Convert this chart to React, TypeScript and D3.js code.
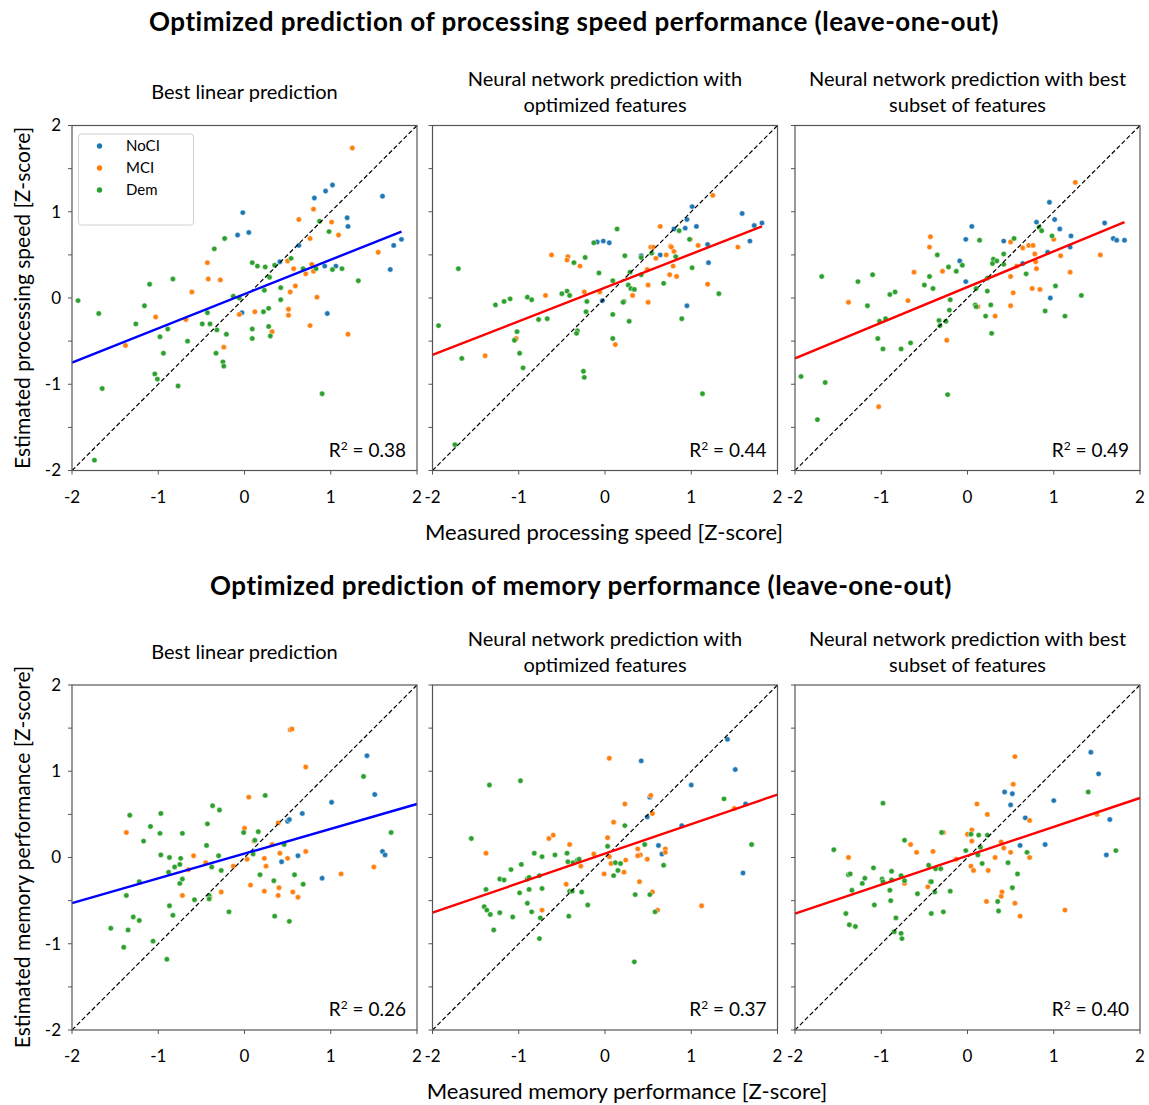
import React from 'react';
import * as d3 from 'd3';

// ---- data: [measured, estimated] Z-scores ----
const speedLinearNoCI = [[-0.02,0.99],[-0.08,0.73],[0.05,0.76],[-0.03,-0.17],[0.41,0.42],[0.63,0.61],[0.81,1.16],[0.94,1.24],[1.02,1.31],[1.19,0.93],[1.20,0.83],[0.93,0.37],[1.06,0.37],[0.96,-0.18],[1.60,1.18],[1.73,0.61],[1.82,0.68],[1.69,0.33]];
const speedLinearMCI = [[1.25,1.74],[0.80,1.03],[0.63,0.91],[1.01,0.88],[0.76,0.69],[1.09,0.73],[1.55,0.53],[-0.43,0.41],[-0.42,0.22],[-0.28,0.21],[-0.61,0.07],[0.50,0.43],[0.57,0.34],[0.78,0.39],[0.71,0.28],[0.80,0.31],[0.59,0.14],[0.53,0.07],[0.84,0.01],[0.51,-0.13],[0.51,-0.20],[0.12,-0.16],[-0.06,-0.19],[0.76,-0.32],[1.20,-0.42],[0.32,-0.39],[-0.24,-0.57],[-0.68,-0.25],[-1.03,-0.22],[-1.38,-0.55]];
const speedLinearDem = [[-1.93,-0.03],[-1.69,-0.18],[-1.65,-1.05],[-1.74,-1.88],[-1.26,-0.30],[-1.16,-0.09],[-1.10,0.16],[-0.83,0.22],[-0.98,-0.45],[-0.89,-0.36],[-0.94,-0.64],[-1.04,-0.88],[-1.01,-0.94],[-0.77,-1.02],[-0.66,-0.50],[-0.49,-0.30],[-0.40,-0.30],[-0.43,-0.17],[-0.32,-0.37],[-0.33,-0.64],[-0.21,-0.42],[-0.25,-0.74],[-0.24,-0.79],[-0.35,0.57],[-0.23,0.69],[-0.13,0.02],[-0.06,0.00],[0.09,0.41],[0.15,0.37],[0.24,0.36],[0.23,0.09],[0.29,0.24],[0.35,0.38],[0.22,-0.16],[0.28,-0.12],[0.09,-0.36],[0.09,-0.47],[0.28,-0.33],[0.30,-0.44],[0.42,-0.02],[0.42,0.12],[0.54,0.46],[0.68,0.34],[0.83,0.34],[0.87,0.89],[0.98,0.77],[1.02,0.33],[1.13,0.34],[1.32,0.20],[0.90,-1.11]];

const speedNetOptNoCI = [[1.01,1.06],[0.95,0.91],[0.93,0.81],[0.80,0.80],[1.06,0.83],[1.59,0.98],[1.73,0.84],[1.82,0.87],[1.68,0.66],[1.19,0.62],[1.20,0.41],[-0.09,0.65],[-0.02,0.66],[0.05,0.64],[0.42,0.49],[0.64,0.50],[-0.03,-0.03],[0.95,-0.09]];
const speedNetOptMCI = [[1.25,1.19],[0.64,0.83],[0.99,0.68],[0.53,0.59],[0.56,0.59],[0.76,0.60],[0.77,0.59],[0.80,0.54],[0.71,0.50],[1.08,0.61],[1.54,0.59],[0.59,0.46],[0.79,0.37],[0.49,0.33],[0.75,0.27],[0.83,0.25],[0.50,0.15],[1.19,0.16],[0.50,-0.05],[0.32,0.03],[-0.62,0.50],[-0.43,0.48],[-0.44,0.44],[-0.29,0.37],[-0.24,0.07],[-0.06,0.07],[-0.69,0.03],[-1.03,-0.47],[-1.39,-0.67],[0.12,-0.54]];
const speedNetOptDem = [[-1.93,-0.32],[-1.70,0.34],[-1.66,-0.70],[-1.74,-1.70],[-1.27,-0.08],[-1.17,-0.04],[-1.10,-0.01],[-0.90,0.01],[-0.85,-0.02],[-0.77,-0.25],[-0.67,-0.24],[-1.02,-0.39],[-1.05,-0.49],[-0.99,-0.64],[-0.95,-0.81],[-0.50,0.05],[-0.44,0.08],[-0.41,0.03],[-0.36,0.41],[-0.23,0.47],[-0.21,-0.04],[-0.22,-0.16],[-0.32,-0.38],[-0.33,-0.41],[-0.25,-0.85],[-0.24,-0.92],[-0.13,0.64],[0.14,0.80],[-0.07,0.29],[0.09,0.20],[0.23,0.49],[0.29,0.30],[0.27,0.15],[0.30,0.11],[0.34,0.10],[0.22,-0.04],[0.21,-0.05],[0.09,-0.19],[0.28,-0.27],[0.09,-0.47],[0.42,0.47],[0.42,0.27],[0.54,0.52],[0.68,0.17],[0.82,0.48],[0.86,0.78],[0.98,0.68],[1.01,0.35],[1.32,0.05],[0.89,-0.24],[1.13,-1.11]];

const speedNetSubNoCI = [[0.95,1.11],[0.80,0.88],[1.01,0.91],[1.07,0.80],[1.20,0.72],[1.19,0.59],[0.93,0.53],[1.59,0.87],[1.69,0.69],[1.73,0.67],[1.82,0.67],[0.05,0.83],[-0.02,0.68],[0.42,0.66],[0.64,0.40],[-0.09,0.43],[-0.02,0.19],[0.96,0.00]];
const speedNetSubMCI = [[1.25,1.34],[-0.43,0.71],[-0.44,0.59],[-0.62,0.30],[-0.29,0.31],[-0.69,-0.03],[-1.38,-0.05],[-0.24,-0.49],[-1.03,-1.26],[0.50,0.65],[0.64,0.58],[0.71,0.61],[0.76,0.61],[0.78,0.51],[0.79,0.42],[0.80,0.34],[0.57,0.37],[0.50,0.25],[0.53,0.06],[0.75,0.11],[0.84,0.10],[0.50,-0.09],[0.12,-0.10],[0.32,-0.21],[1.00,0.68],[1.08,0.49],[1.19,0.30],[1.54,0.50]];
const speedNetSubDem = [[-1.93,-0.91],[-1.74,-1.41],[-1.65,-0.98],[-1.69,0.25],[-1.27,0.19],[-1.10,0.27],[-1.16,-0.09],[-1.02,-0.27],[-0.95,-0.24],[-0.90,0.04],[-0.84,0.07],[-1.04,-0.47],[-0.98,-0.59],[-0.77,-0.59],[-0.66,-0.52],[-0.50,0.15],[-0.44,0.25],[-0.40,0.11],[-0.35,0.50],[-0.22,0.36],[-0.20,-0.02],[-0.21,-0.14],[-0.33,-0.26],[-0.32,-0.32],[-0.25,-0.27],[-0.23,-1.12],[-0.13,0.31],[-0.06,0.38],[0.14,0.67],[0.10,0.11],[0.09,-0.08],[0.10,-0.10],[0.23,0.23],[0.23,0.08],[0.30,0.45],[0.29,0.40],[0.34,0.43],[0.27,-0.08],[0.21,-0.21],[0.28,-0.41],[0.42,0.51],[0.42,0.39],[0.54,0.69],[0.68,0.28],[0.83,0.82],[0.86,0.78],[0.98,0.72],[1.02,0.14],[0.90,-0.15],[1.13,-0.21],[1.32,0.03]];

const memLinearNoCI = [[1.42,1.18],[1.51,0.73],[1.01,0.64],[0.67,0.51],[0.50,0.42],[0.52,0.44],[0.43,-0.05],[0.62,0.02],[0.90,-0.24],[1.60,0.07],[1.63,0.03]];
const memLinearMCI = [[0.53,1.48],[0.55,1.49],[0.71,1.05],[0.05,0.70],[0.39,0.40],[0.00,0.34],[0.11,0.19],[0.03,-0.02],[-0.13,-0.10],[0.23,-0.01],[0.25,-0.10],[0.41,0.05],[0.50,-0.01],[0.71,0.07],[0.32,0.15],[0.07,-0.32],[0.23,-0.39],[0.40,-0.35],[0.39,-0.44],[0.56,-0.40],[0.62,-0.46],[1.12,-0.19],[1.50,-0.11],[-1.37,0.29],[-0.59,0.02],[-0.45,-0.06],[-0.65,-0.14],[-0.72,-0.44],[-0.40,-0.46],[-0.27,-0.40]];
const memLinearDem = [[-1.33,0.49],[-1.09,0.36],[-1.17,0.19],[-0.98,0.28],[-0.97,0.51],[-0.97,0.03],[-0.87,0.00],[-0.74,-0.01],[-0.72,0.28],[-0.75,-0.08],[-0.81,-0.11],[-0.88,-0.17],[-0.75,-0.30],[-0.72,-0.25],[-1.22,-0.28],[-1.37,-0.44],[-1.29,-0.69],[-1.22,-0.73],[-1.55,-0.82],[-1.35,-0.84],[-1.40,-1.04],[-1.06,-0.97],[-0.90,-1.18],[-0.87,-0.56],[-0.83,-0.67],[-0.58,-0.49],[-0.41,-0.44],[-0.41,-0.48],[-0.37,0.60],[-0.29,0.55],[-0.43,0.39],[-0.44,0.14],[-0.30,0.02],[-0.38,-0.11],[-0.27,-0.15],[-0.18,-0.63],[-0.01,0.29],[0.16,0.30],[0.12,0.20],[0.10,0.04],[0.24,0.72],[0.18,-0.20],[0.34,-0.27],[0.46,0.15],[0.58,-0.20],[0.68,-0.31],[0.35,-0.68],[0.52,-0.74],[1.38,0.94],[1.70,0.29]];

const memNetOptNoCI = [[1.42,1.37],[1.51,1.02],[1.00,0.84],[0.42,1.12],[0.52,0.70],[0.49,0.47],[0.89,0.37],[1.63,0.62],[0.62,0.14],[0.66,0.04],[1.60,-0.18]];
const memNetOptMCI = [[0.05,1.15],[0.53,0.72],[0.23,0.62],[0.55,0.51],[0.10,0.41],[0.03,0.23],[1.50,0.57],[0.05,0.01],[-0.13,0.04],[0.07,-0.07],[0.24,-0.03],[0.38,0.10],[0.41,0.03],[0.38,0.02],[0.49,-0.02],[0.70,0.10],[0.70,0.06],[0.22,-0.17],[-0.01,-0.19],[0.40,-0.28],[0.55,-0.40],[0.61,-0.61],[1.12,-0.56],[-0.65,0.22],[-0.60,0.26],[-0.41,0.15],[-0.28,-0.10],[-0.45,-0.31],[-1.38,0.05],[-0.73,-0.61]];
const memNetOptDem = [[-1.34,0.84],[-0.98,0.89],[-1.55,0.22],[-1.38,-0.37],[-1.40,-0.57],[-1.37,-0.61],[-1.33,-0.66],[-1.29,-0.84],[-1.22,-0.64],[-1.22,-0.25],[-1.17,-0.26],[-1.09,-0.14],[-0.97,-0.08],[-0.99,-0.41],[-1.07,-0.69],[-0.90,-0.53],[-0.90,-0.25],[-0.88,-0.23],[-0.88,-0.37],[-0.85,-0.63],[-0.82,0.05],[-0.73,0.01],[-0.76,-0.21],[-0.73,-0.36],[-0.75,-0.70],[-0.76,-0.94],[-0.58,0.03],[-0.44,0.05],[-0.43,-0.05],[-0.37,-0.06],[-0.32,-0.03],[-0.30,-0.02],[-0.41,-0.39],[-0.38,-0.39],[-0.27,-0.40],[-0.42,-0.68],[-0.20,-0.55],[0.03,0.13],[0.12,-0.06],[0.18,-0.07],[0.15,-0.15],[0.10,-0.21],[0.23,0.37],[0.46,0.15],[0.35,-0.43],[0.52,-0.43],[0.58,-0.63],[0.68,-0.09],[1.38,0.68],[1.70,0.15],[0.34,-1.21]];

const memNetSubNoCI = [[1.43,1.22],[1.52,0.97],[0.43,0.76],[0.52,0.74],[0.50,0.61],[1.00,0.66],[0.67,0.46],[1.65,0.44],[0.61,0.14],[0.90,0.15],[1.61,0.03]];
const memNetSubMCI = [[0.55,1.17],[0.53,0.85],[0.11,0.62],[0.23,0.50],[0.72,0.43],[1.50,0.50],[0.05,0.32],[0.00,0.27],[0.05,0.19],[-0.28,0.29],[0.39,0.18],[0.42,0.11],[0.50,0.06],[0.32,0.00],[0.72,0.00],[0.04,-0.10],[0.07,-0.15],[0.24,-0.15],[0.40,-0.40],[0.39,-0.45],[0.22,-0.51],[0.55,-0.53],[0.61,-0.68],[1.13,-0.61],[-0.66,0.15],[-0.59,0.06],[-0.40,0.07],[-1.38,0.00],[-0.73,-0.30],[-0.46,-0.34],[-0.13,-0.02]];
const memNetSubDem = [[-1.55,0.09],[-0.98,0.63],[-1.38,-0.20],[-1.36,-0.19],[-1.34,-0.38],[-1.41,-0.65],[-1.37,-0.78],[-1.30,-0.80],[-1.22,-0.30],[-1.19,-0.24],[-1.09,-0.12],[-1.08,-0.55],[-0.99,-0.25],[-0.98,-0.28],[-0.88,-0.16],[-0.88,-0.26],[-0.90,-0.38],[-0.89,-0.50],[-0.77,-0.21],[-0.73,-0.27],[-0.83,-0.70],[-0.85,-0.86],[-0.77,-0.88],[-0.76,-0.94],[-0.73,0.20],[-0.58,-0.42],[-0.45,-0.09],[-0.43,-0.28],[-0.42,-0.28],[-0.38,-0.40],[-0.37,-0.13],[-0.31,-0.13],[-0.42,-0.65],[-0.30,0.29],[-0.28,-0.63],[-0.20,-0.39],[-0.02,0.08],[0.04,0.27],[0.13,0.26],[0.23,0.26],[0.15,0.12],[0.12,0.03],[0.17,-0.07],[0.47,-0.06],[0.58,-0.19],[0.52,-0.35],[0.35,-0.51],[0.36,-0.62],[0.69,0.06],[1.40,0.76],[1.72,0.08]];

// regression line end points [[x0, y0], [x1, y1]]
const speedFits = [[[-2, -0.75], [1.82, 0.77]], [[-2, -0.66], [1.82, 0.83]], [[-2, -0.70], [1.82, 0.88]]];
const memFits = [[[-2, -0.53], [2, 0.62]], [[-2, -0.64], [2, 0.73]], [[-2, -0.65], [2, 0.69]]];
const speedR2 = ['0.38', '0.44', '0.49'];
const memR2 = ['0.26', '0.37', '0.40'];

const groupNames = ['NoCI', 'MCI', 'Dem'];
const groupColors = ['#1f77b4', '#ff7f0e', '#2ca02c'];
const fitColors = ['#0000ff', '#ff0000', '#ff0000'];
const panelTitles = [
  ['Best linear prediction'],
  ['Neural network prediction with', 'optimized features'],
  ['Neural network prediction with best', 'subset of features'],
];
const xTicks = [-2, -1, 0, 1, 2];
const yTicks = [-2, -1.5, -1, -0.5, 0, 0.5, 1, 1.5, 2];

const speedGroups = [
  [speedLinearNoCI, speedLinearMCI, speedLinearDem],
  [speedNetOptNoCI, speedNetOptMCI, speedNetOptDem],
  [speedNetSubNoCI, speedNetSubMCI, speedNetSubDem],
];
const memGroups = [
  [memLinearNoCI, memLinearMCI, memLinearDem],
  [memNetOptNoCI, memNetOptMCI, memNetOptDem],
  [memNetSubNoCI, memNetSubMCI, memNetSubDem],
];

const FONT = "Lato, 'Open Sans', sans-serif";
const SIZE = 345;
const colX = [72, 432.5, 795];
const rowY = [125.5, 685];

function Panel({ col, top, groups, fit, r2, legend }) {
  const x0 = colX[col];
  const x = d3.scaleLinear().domain([-2, 2]).range([x0, x0 + SIZE]);
  const y = d3.scaleLinear().domain([-2, 2]).range([top + SIZE, top]);
  const line = d3.line().x(d => x(d[0])).y(d => y(d[1]));
  const titleLines = panelTitles[col];
  const titleBase = titleLines.length === 1 ? top - 26.5 : top - 39.5;
  return (
    <g>
      {titleLines.map((t, i) => (
        <text key={i} x={x0 + SIZE / 2} y={titleBase + i * 26} textAnchor="middle" fontSize={20}>{t}</text>
      ))}
      {groups.map((pts, gi) => (
        <g key={gi} fill={groupColors[gi]} stroke="#fff" strokeWidth={0.5}>
          {pts.map((p, i) => <circle key={i} cx={x(p[0])} cy={y(p[1])} r={2.7} />)}
        </g>
      ))}
      <path d={line([[-2, -2], [2, 2]])} stroke="#000" strokeWidth={1.2} strokeDasharray="4.5,2.5" fill="none" />
      <path d={line(fit)} stroke={fitColors[col]} strokeWidth={2.4} fill="none" />
      <rect x={x0} y={top} width={SIZE} height={SIZE} fill="none" stroke="#555" strokeWidth={1.2} />
      {xTicks.map(t => (
        <g key={t}>
          <line x1={x(t)} x2={x(t)} y1={top + SIZE} y2={top + SIZE + 4} stroke="#555" />
          <text x={x(t)} y={top + SIZE + 32} textAnchor="middle" fontSize={17}>{t}</text>
        </g>
      ))}
      {yTicks.map(t => (
        <g key={t}>
          <line x1={x0 - 4} x2={x0} y1={y(t)} y2={y(t)} stroke="#555" />
          {col === 0 && Number.isInteger(t) && (
            <text x={x0 - 11} y={y(t)} dy="0.35em" textAnchor="end" fontSize={17}>{t}</text>
          )}
        </g>
      ))}
      <text x={x0 + SIZE - 11} y={top + SIZE - 14} textAnchor="end" fontSize={19}>
        R<tspan fontSize={12} dy={-7}>2</tspan><tspan dy={7}> = {r2}</tspan>
      </text>
      {legend && (
        <g>
          <rect x={x0 + 6.5} y={top + 8.5} width={115} height={91} rx={3} fill="#fff" fillOpacity={0.8} stroke="#d0d0d0" />
          {groupNames.map((n, i) => (
            <g key={n}>
              <circle cx={x0 + 27.5} cy={top + 20.5 + i * 22} r={2.7} fill={groupColors[i]} />
              <text x={x0 + 54} y={top + 20.5 + i * 22} dy="0.35em" fontSize={15}>{n}</text>
            </g>
          ))}
        </g>
      )}
    </g>
  );
}

export default function App() {
  return (
    <svg width={1149} height={1105} style={{ position: 'absolute', left: 0, top: 0, background: '#fff' }} fontFamily={FONT}>
      <rect width={1149} height={1105} fill="#fff" />
      <text x={574} y={31} textAnchor="middle" fontSize={26} fontWeight="bold" letterSpacing={0.5}>
        Optimized prediction of processing speed performance (leave-one-out)
      </text>
      <text x={581} y={595} textAnchor="middle" fontSize={26} fontWeight="bold" letterSpacing={0.5}>
        Optimized prediction of memory performance (leave-one-out)
      </text>
      {speedGroups.map((g, i) => (
        <Panel key={'s' + i} col={i} top={rowY[0]} groups={g} fit={speedFits[i]} r2={speedR2[i]} legend={i === 0} />
      ))}
      {memGroups.map((g, i) => (
        <Panel key={'m' + i} col={i} top={rowY[1]} groups={g} fit={memFits[i]} r2={memR2[i]} legend={false} />
      ))}
      <text x={604} y={540} textAnchor="middle" fontSize={22}>Measured processing speed [Z-score]</text>
      <text x={627} y={1099} textAnchor="middle" fontSize={22}>Measured memory performance [Z-score]</text>
      <text transform="translate(30,298) rotate(-90)" textAnchor="middle" fontSize={21}>Estimated processing speed [Z-score]</text>
      <text transform="translate(30,857) rotate(-90)" textAnchor="middle" fontSize={21}>Estimated memory performance [Z-score]</text>
    </svg>
  );
}
